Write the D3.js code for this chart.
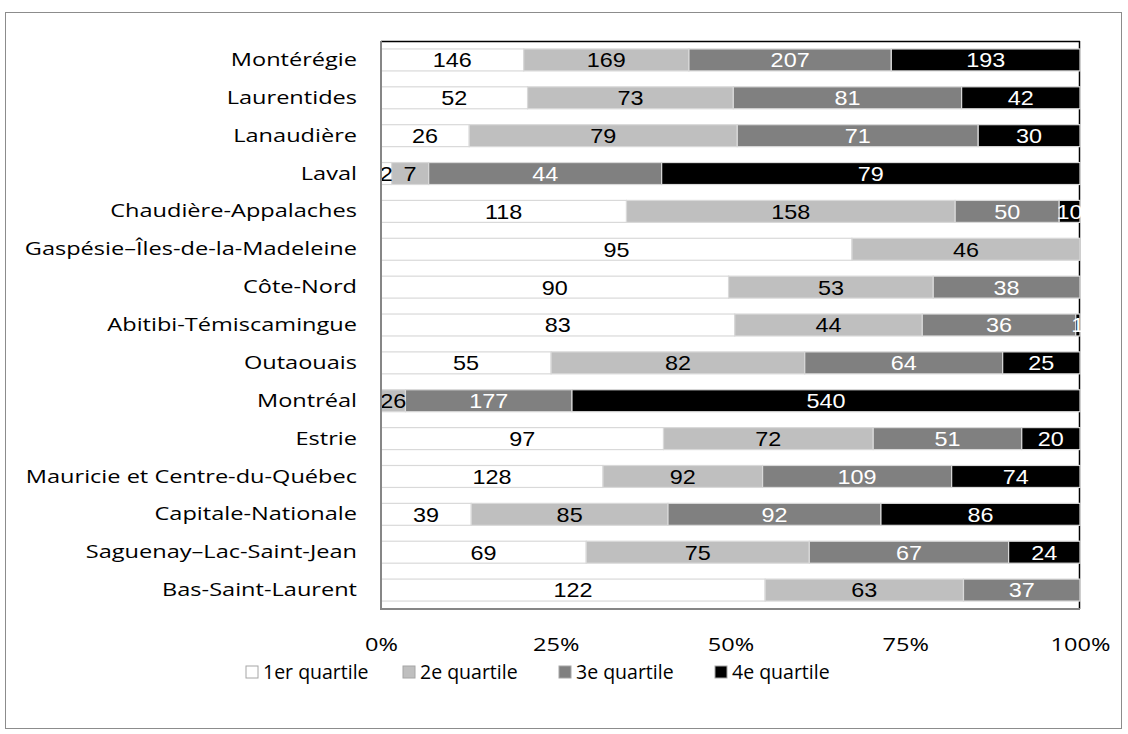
<!DOCTYPE html>
<html>
<head>
<meta charset="utf-8">
<script src="https://cdn.jsdelivr.net/npm/d3@7"></script>
<style>
  body { margin: 0; background: #fff; }
  svg { display: block; }
</style>
</head>
<body>
<svg></svg>
<script>
// categories, top to bottom
let regions = ["Montérégie", "Laurentides", "Lanaudière", "Laval", "Chaudière-Appalaches",
  "Gaspésie–Îles-de-la-Madeleine", "Côte-Nord", "Abitibi-Témiscamingue", "Outaouais", "Montréal",
  "Estrie", "Mauricie et Centre-du-Québec", "Capitale-Nationale", "Saguenay–Lac-Saint-Jean", "Bas-Saint-Laurent"];

// counts per quartile
let q1 = [146, 52, 26, 2, 118, 95, 90, 83, 55, 0, 97, 128, 39, 69, 122];
let q2 = [169, 73, 79, 7, 158, 46, 53, 44, 82, 26, 72, 92, 85, 75, 63];
let q3 = [207, 81, 71, 44, 50, 0, 38, 36, 64, 177, 51, 109, 92, 67, 37];
let q4 = [193, 42, 30, 79, 10, 0, 0, 1, 25, 540, 20, 74, 86, 24, 0];

let seriesNames = ["1er quartile", "2e quartile", "3e quartile", "4e quartile"];
let seriesColors = ["#ffffff", "#bfbfbf", "#808080", "#000000"];
let labelColors = ["#000", "#000", "#fff", "#fff"];
let tickValues = [0, 0.25, 0.5, 0.75, 1];

let width = 1128;
let height = 734;
let plot = { left: 381, right: 1080, top: 41, bottom: 609 };
let textFont = "'Open Sans', Lato, sans-serif";
let textSize = 19;
let axisStretch = 1.24;   // the reference text is wide
let labelStretch = 1.17;

let svg = d3.select("svg").attr("width", width).attr("height", height);

// outer frame
svg.append("rect")
  .attr("x", 5.5).attr("y", 12.5)
  .attr("width", 1116).attr("height", 716)
  .attr("fill", "#fff")
  .attr("stroke", "#8c8c8c")
  .attr("stroke-width", 1);

let rows = regions.map((r, i) => {
  let vals = [q1[i], q2[i], q3[i], q4[i]];
  let total = d3.sum(vals);
  let start = 0;
  let segs = vals.map((v, k) => {
    let s = { region: r, k: k, value: v, x0: start / total, x1: (start + v) / total };
    start += v;
    return s;
  });
  return { region: r, segs: segs };
});

let xScale = d3.scaleLinear().domain([0, 1]).range([plot.left, plot.right]);
let yScale = d3.scaleBand().domain(regions).range([plot.top, plot.bottom]).paddingInner(0.42).paddingOuter(0.21);

// plot border (top and right)
svg.append("line")
  .attr("x1", plot.left).attr("x2", plot.right)
  .attr("y1", plot.top + 0.5).attr("y2", plot.top + 0.5)
  .attr("stroke", "#000").attr("stroke-width", 1.5);
svg.append("line")
  .attr("x1", plot.right - 0.5).attr("x2", plot.right - 0.5)
  .attr("y1", plot.top).attr("y2", plot.bottom)
  .attr("stroke", "#000").attr("stroke-width", 1.5);

// bars
let rowG = svg.selectAll("g.row")
  .data(rows)
  .enter()
  .append("g")
  .attr("class", "row");

rowG.selectAll("rect")
  .data(d => d.segs.filter(s => s.value > 0))
  .enter()
  .append("rect")
  .attr("x", d => xScale(d.x0))
  .attr("y", d => yScale(d.region))
  .attr("width", d => xScale(d.x1) - xScale(d.x0))
  .attr("height", yScale.bandwidth())
  .attr("fill", d => seriesColors[d.k])
  .attr("stroke", "#d9d9d9")
  .attr("stroke-width", 1.2);

rowG.selectAll("text")
  .data(d => d.segs.filter(s => s.value > 0))
  .enter()
  .append("text")
  .attr("transform", `scale(${labelStretch},1)`)
  .attr("x", d => (xScale(d.x0) + xScale(d.x1)) / 2 / labelStretch)
  .attr("y", d => yScale(d.region) + yScale.bandwidth() / 2)
  .attr("dy", "0.37em")
  .attr("text-anchor", "middle")
  .attr("font-family", "'Liberation Sans', Arial, sans-serif")
  .attr("font-size", 20)
  .attr("fill", d => labelColors[d.k])
  .text(d => d.value);

// axes
let yAxis = d3.axisLeft(yScale).tickSize(0).tickPadding(24);
let gy = svg.append("g")
  .attr("transform", `translate(${plot.left}, 0)`)
  .call(yAxis);
gy.select(".domain").attr("stroke", "#868686").attr("stroke-width", 2)
  .attr("d", `M0,${plot.top}V${plot.bottom}`);
gy.selectAll("text")
  .attr("transform", `scale(${axisStretch},1)`)
  .attr("x", -24 / axisStretch)
  .attr("font-family", textFont)
  .attr("font-size", textSize)
  .attr("fill", "#000");

let xAxis = d3.axisBottom(xScale).tickValues(tickValues).tickSize(0).tickPadding(29)
  .tickFormat(d3.format(".0%"));
let gx = svg.append("g")
  .attr("transform", `translate(0, ${plot.bottom})`)
  .call(xAxis);
gx.select(".domain").attr("stroke", "#868686").attr("stroke-width", 2)
  .attr("d", `M${plot.left - 1},0H${plot.right}`);
gx.selectAll("text")
  .attr("transform", `scale(${axisStretch},1)`)
  .attr("font-family", textFont)
  .attr("font-size", textSize)
  .attr("fill", "#000");

// legend
let legendX = [246, 403, 559, 715];
let legend = svg.selectAll("g.legend")
  .data(seriesNames)
  .enter()
  .append("g")
  .attr("class", "legend")
  .attr("transform", (d, i) => `translate(${legendX[i]}, 672)`);

legend.append("rect")
  .attr("x", 0).attr("y", -6)
  .attr("width", 12).attr("height", 12)
  .attr("fill", (d, i) => seriesColors[i])
  .attr("stroke", "#a6a6a6")
  .attr("stroke-width", 1);

legend.append("text")
  .attr("x", 17)
  .attr("dy", "0.35em")
  .attr("font-family", textFont)
  .attr("font-size", 19.5)
  .attr("fill", "#000")
  .text(d => d);
</script>
</body>
</html>
